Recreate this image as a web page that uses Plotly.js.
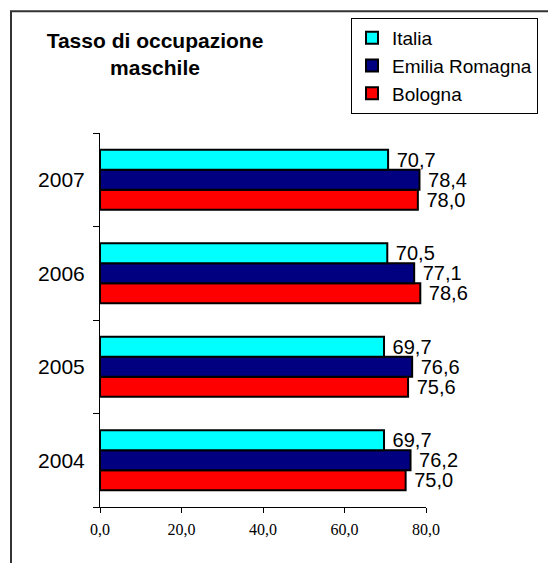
<!DOCTYPE html>
<html>
<head>
<meta charset="utf-8">
<script src="https://cdn.plot.ly/plotly-3.0.1.min.js"></script>
<style>
  html, body { margin: 0; padding: 0; background: #fff; }
  #chart { width: 548px; height: 563px; }
</style>
</head>
<body>
<div id="chart"></div>
<script>
// Data
const years = ['2004', '2005', '2006', '2007'];
const italia = [69.7, 69.7, 70.5, 70.7];
const emiliaRomagna = [76.2, 76.6, 77.1, 78.4];
const bologna = [75.0, 75.6, 78.6, 78.0];
const xTickVals = [0, 20, 40, 60, 80];

const sansFont = 'Arial, "Liberation Sans", sans-serif';
const serifFont = '"Times New Roman", "Liberation Serif", serif';

function barTrace(name, values, color) {
  return {
    type: 'bar',
    orientation: 'h',
    name: name,
    y: years,
    x: values,
    marker: { color: color, line: { color: '#000', width: 2 } },
    texttemplate: '\u00a0%{x:.1f}',
    textposition: 'outside',
    cliponaxis: false,
    constraintext: 'none',
    textfont: { family: sansFont, size: 20, color: '#000' },
    hoverinfo: 'name+x'
  };
}

const data = [
  barTrace('Bologna', bologna, '#FF0000'),
  barTrace('Emilia Romagna', emiliaRomagna, '#000080'),
  barTrace('Italia', italia, '#00FFFF')
];

const L = 100, R = 122, T = 133, B = 55.5;
const W = 548, H = 563;
const pw = W - L - R, ph = H - T - B;

const layout = {
  width: W,
  height: H,
  margin: { l: L, r: R, t: T, b: B, pad: 0, autoexpand: false },
  paper_bgcolor: '#fff',
  plot_bgcolor: '#fff',
  barmode: 'group',
  bargap: 0.36,
  bargroupgap: 0,
  separators: ',.',
  showlegend: true,
  title: {
    text: '<b>Tasso di occupazione<br>maschile</b>',
    font: { family: sansFont, size: 21, color: '#000' },
    xref: 'container', x: 155 / W, xanchor: 'center',
    yref: 'container', y: 1 - 48 / H, yanchor: 'top'
  },
  legend: {
    xref: 'container', yref: 'container',
    x: 351 / W, xanchor: 'left',
    y: 1 - 18 / H, yanchor: 'top',
    traceorder: 'reversed',
    bgcolor: '#fff',
    bordercolor: '#000',
    borderwidth: 1,
    font: { family: sansFont, size: 19, color: '#000' }
  },
  xaxis: {
    range: [0, 80],
    tickvals: xTickVals,
    tickformat: '.1f',
    ticks: 'outside',
    ticklen: 5,
    tickcolor: '#000',
    tickwidth: 1,
    showline: true,
    linecolor: '#000',
    linewidth: 1,
    showgrid: false,
    zeroline: false,
    automargin: false,
    tickfont: { family: serifFont, size: 16, color: '#000' },
    ticklabelstandoff: 3,
    fixedrange: true
  },
  yaxis: {
    type: 'category',
    categoryorder: 'array',
    categoryarray: years,
    range: [-0.5, 3.5],
    tickson: 'boundaries',
    ticks: 'outside',
    ticklen: 6,
    tickcolor: '#000',
    tickwidth: 1,
    showline: true,
    linecolor: '#000',
    linewidth: 1,
    showgrid: false,
    zeroline: false,
    automargin: false,
    tickfont: { family: sansFont, size: 21, color: '#000' },
    ticklabelstandoff: 10,
    fixedrange: true
  },
  shapes: [{
    type: 'rect',
    xref: 'paper', yref: 'paper',
    x0: (11 - L) / pw, x1: (W + 20 - L) / pw,
    y0: (H - B - (H + 20)) / ph, y1: (H - B - 11) / ph,
    line: { color: '#333', width: 2 },
    fillcolor: 'rgba(0,0,0,0)',
    layer: 'below'
  }]
};

Plotly.newPlot('chart', data, layout, { displayModeBar: false, staticPlot: true });
</script>
</body>
</html>
